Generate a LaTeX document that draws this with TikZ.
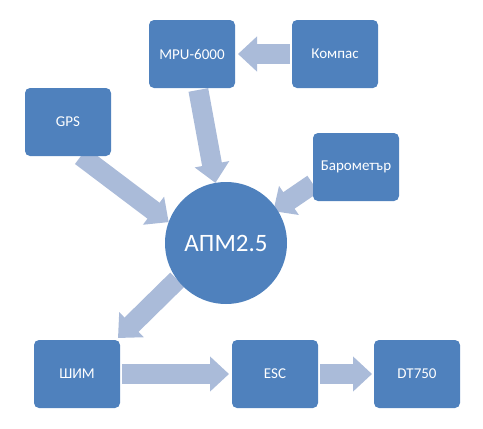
\documentclass[tikz,border=0pt]{standalone}
\usepackage{fontspec}
\setmainfont{Carlito}
\usetikzlibrary{arrows.meta}
\usetikzlibrary{backgrounds}

\definecolor{boxblue}{RGB}{79,129,189}
\definecolor{arrowblue}{RGB}{170,187,217}

\tikzset{
  unit/.style={fill=boxblue, rounded corners=5pt, minimum width=86pt,
    minimum height=68pt, text=white, outer sep=0pt,
    font=\fontsize{15}{18}\selectfont},
  hub/.style={circle, fill=boxblue, minimum size=122pt, inner sep=0pt,
    text=white, outer sep=0pt, font=\fontsize{25}{30}\selectfont},
  flow/.style={draw=arrowblue, line width=20pt,
    -{Triangle[width=34pt,length=19pt]}}
}

\begin{document}
\begin{tikzpicture}[x=1pt, y=-1pt]
    \useasboundingbox (0,0) rectangle (483,429);

    % sensors
    \node[unit] (mpu) at (192,54) {MPU-6000};
    \node[unit] (compass) at (335,54) {Компас};
    \node[unit] (gps) at (68,122) {GPS};
    \node[unit] (baro) at (356,167) {Барометър};

    % controller
    \node[hub] (apm) at (226,243) {АПМ2.5};

    % outputs
    \node[unit] (pwm) at (77,374) {ШИМ};
    \node[unit] (esc) at (275,374) {ESC};
    \node[unit] (motor) at (417,374) {DT750};

    % block arrows behind the shapes
    \begin{scope}[on background layer]
    \draw[flow, shorten <=2pt, shorten >=3pt] (compass) -- (mpu);
    \draw[flow, shorten <=2pt] ([xshift=6pt]mpu.south) -- (apm.100);
    \draw[flow] ([xshift=13pt]gps.south) -- (apm.160);
    \draw[flow, shorten >=-4pt] ([yshift=-17pt]baro.west) -- (apm.34);
    \draw[flow] (apm.217) -- ([shift={(-2pt,2pt)}]pwm.north east);
    \draw[flow, shorten <=2pt, shorten >=3pt] (pwm) -- (esc);
    \draw[flow, shorten <=2pt, shorten >=2pt] (esc) -- (motor);
    \end{scope}
\end{tikzpicture}
\end{document}
